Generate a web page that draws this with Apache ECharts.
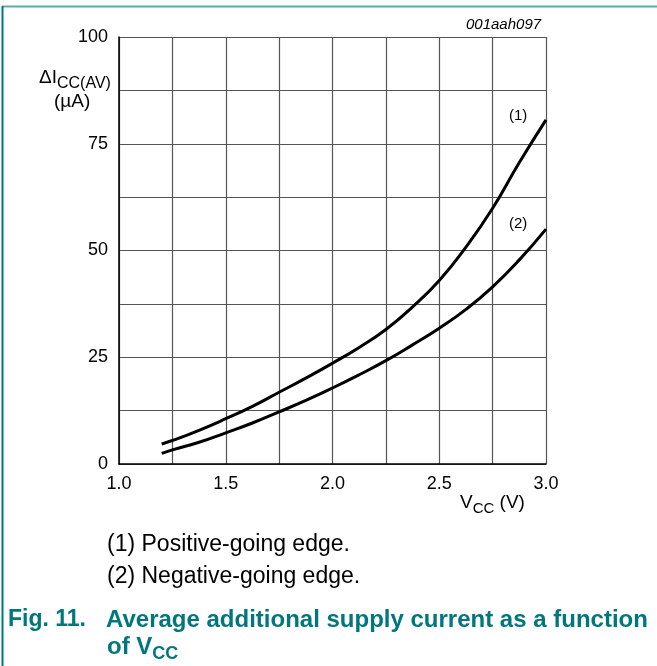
<!DOCTYPE html>
<html>
<head>
<meta charset="utf-8">
<script src="https://cdn.jsdelivr.net/npm/echarts@6/dist/echarts.min.js"></script>
<style>
  html, body { margin: 0; padding: 0; background: #fff; }
  #chart { width: 657px; height: 666px; }
</style>
</head>
<body>
<div id="chart"></div>
<script>
// 数据
var vcc = [1.2, 1.25, 1.375, 1.5, 1.625, 1.75, 1.875, 2.0, 2.125, 2.25, 2.375, 2.5, 2.625, 2.75, 2.875, 3.0]
var positiveEdge = [4.7, 5.5, 7.9, 10.6, 13.5, 16.8, 20.1, 23.6, 27.3, 31.5, 36.8, 43.0, 50.8, 59.9, 70.6, 80.6]
var negativeEdge = [2.5, 3.3, 5.1, 7.3, 9.6, 12.2, 14.9, 17.8, 20.9, 24.2, 27.9, 31.8, 36.2, 41.5, 47.8, 55.0]
var curveLabels = ['(1)', '(2)']
var notes = ['(1) Positive-going edge.', '(2) Negative-going edge.']

var FONT = 'Liberation Sans, Arial, sans-serif'
var TEAL = '#00767d'

function pairs(xs, ys) {
  return xs.map(function (x, i) { return [x, ys[i]] })
}

var myChart = echarts.init(document.getElementById('chart'))

var option = {
  backgroundColor: '#fff',
  animation: false,
  grid: { left: 119, top: 37, width: 427, height: 427 },
  xAxis: {
    type: 'value',
    min: 1.0,
    max: 3.0,
    interval: 0.25,
    axisLine: { show: true, lineStyle: { color: '#000', width: 1.5 } },
    axisTick: { show: false },
    axisLabel: {
      color: '#000',
      fontSize: 18,
      fontFamily: FONT,
      margin: 11,
      formatter: function (v) {
        return Math.abs(v * 2 - Math.round(v * 2)) < 1e-6 ? v.toFixed(1) : ''
      }
    },
    splitLine: { show: true, lineStyle: { color: '#555', width: 1.2 } }
  },
  yAxis: {
    type: 'value',
    min: 0,
    max: 100,
    interval: 12.5,
    axisLine: { show: true, lineStyle: { color: '#000', width: 1.5 } },
    axisTick: { show: false },
    axisLabel: {
      color: '#000',
      fontSize: 18,
      fontFamily: FONT,
      margin: 11,
      formatter: function (v) {
        return v % 25 === 0 ? String(v) : ''
      }
    },
    splitLine: { show: true, lineStyle: { color: '#555', width: 1.2 } }
  },
  series: [{
    name: curveLabels[0],
    type: 'line',
    smooth: 0.5,
    showSymbol: false,
    data: pairs(vcc, positiveEdge),
    lineStyle: { color: '#000', width: 3 }
  }, {
    name: curveLabels[1],
    type: 'line',
    smooth: 0.5,
    showSymbol: false,
    data: pairs(vcc, negativeEdge),
    lineStyle: { color: '#000', width: 3 }
  }],
  graphic: [
    // 外框
    { type: 'line', shape: { x1: 2, y1: 6.5, x2: 657, y2: 6.5 }, style: { stroke: '#5aaab3', lineWidth: 2 } },
    { type: 'line', shape: { x1: 2.5, y1: 6, x2: 2.5, y2: 666 }, style: { stroke: TEAL, lineWidth: 2 } },
    // 图号
    {
      type: 'text', left: 466, top: 17,
      style: { text: '001aah097', font: 'italic 15px ' + FONT, fill: '#000' }
    },
    // y轴标题
    {
      type: 'text', left: 39, top: 68,
      style: {
        text: '{m|ΔI}{s|CC(AV)}',
        rich: {
          m: { font: '19px ' + FONT, fill: '#000', verticalAlign: 'top' },
          s: { font: '16px ' + FONT, fill: '#000', padding: [8, 0, 0, 0] }
        }
      }
    },
    {
      type: 'text', left: 54, top: 92,
      style: { text: '(µA)', font: '19px ' + FONT, fill: '#000' }
    },
    // x轴标题
    {
      type: 'text', left: 460, top: 493,
      style: {
        text: '{m|V}{s|CC}{m| (V)}',
        rich: {
          m: { font: '19px ' + FONT, fill: '#000', verticalAlign: 'top' },
          s: { font: '15px ' + FONT, fill: '#000', padding: [8, 0, 0, 0] }
        }
      }
    },
    // 曲线标号
    { type: 'text', left: 509, top: 108, style: { text: curveLabels[0], font: '15px ' + FONT, fill: '#000' } },
    { type: 'text', left: 509, top: 216, style: { text: curveLabels[1], font: '15px ' + FONT, fill: '#000' } },
    // 注释
    { type: 'text', left: 107, top: 533, style: { text: notes[0], font: '23px ' + FONT, fill: '#000' } },
    { type: 'text', left: 107, top: 565, style: { text: notes[1], font: '23px ' + FONT, fill: '#000' } },
    // 图题
    {
      type: 'text', left: 8, top: 608,
      style: { text: 'Fig. 11.', font: 'bold 23px ' + FONT, fill: TEAL }
    },
    {
      type: 'text', left: 106, top: 608,
      style: { text: 'Average additional supply current as a function', font: 'bold 24px ' + FONT, fill: TEAL }
    },
    {
      type: 'text', left: 107, top: 635,
      style: {
        text: '{m|of V}{s|CC}',
        rich: {
          m: { font: 'bold 24px ' + FONT, fill: TEAL, verticalAlign: 'top' },
          s: { font: 'bold 18px ' + FONT, fill: TEAL, padding: [10, 0, 0, 0] }
        }
      }
    }
  ]
}

myChart.setOption(option)
</script>
</body>
</html>
